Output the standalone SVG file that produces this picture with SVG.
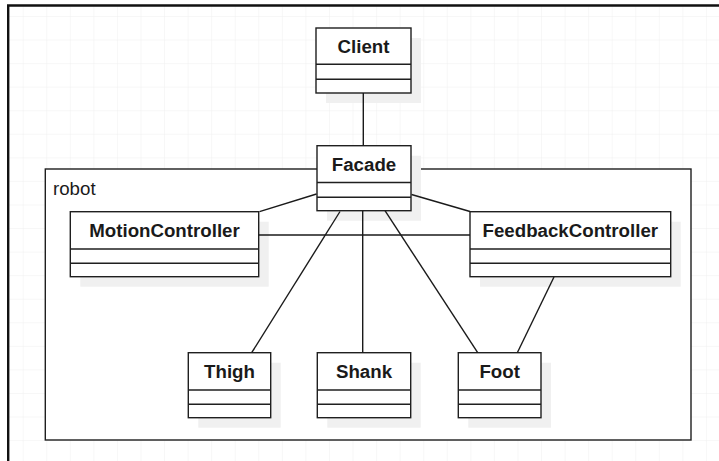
<svg xmlns="http://www.w3.org/2000/svg" width="719" height="461" viewBox="0 0 719 461">
<defs>
<pattern id="grid" x="22.7" y="16" width="23.56" height="23.56" patternUnits="userSpaceOnUse">
<path d="M0 0H23.56M0 0V23.56" fill="none" stroke="#f0f0f0" stroke-width="1"/>
</pattern>
</defs>
<style>
.box{fill:#ffffff;stroke:#1f1f1f;stroke-width:1.4}
.div{stroke:#1f1f1f;stroke-width:1.4}
.shadow{fill:#f0f0f0}
.name{font-family:"Liberation Sans",Arial,sans-serif;font-weight:bold;font-size:18.7px;fill:#1a1a1a;text-anchor:middle}
.conn line{stroke:#1a1a1a;stroke-width:1.4}
</style>
<rect x="0" y="0" width="719" height="461" fill="#ffffff"/>
<rect x="8" y="5.5" width="711" height="456" fill="url(#grid)"/>
<path d="M8.2 461V5.5H719" fill="none" stroke="#111" stroke-width="2.4"/>
<g id="robot">
<rect x="45.3" y="169" width="645.7" height="271" fill="#ffffff" stroke="#1f1f1f" stroke-width="1.4"/>
<text x="53" y="195" font-family="'Liberation Sans',Arial,sans-serif" font-size="18.7px" fill="#1a1a1a">robot</text>
</g>
<g id="Client">
<rect class="shadow" x="326" y="38" width="95" height="65"/>
<rect class="box" x="316" y="28" width="95" height="65"/>
<line class="div" x1="316" y1="64.3" x2="411" y2="64.3"/>
<line class="div" x1="316" y1="79.3" x2="411" y2="79.3"/>
<text class="name" x="363.5" y="53">Client</text>
</g>
<g id="Facade">
<rect class="shadow" x="327" y="155.7" width="94" height="65"/>
<rect class="box" x="317" y="145.7" width="94" height="65"/>
<line class="div" x1="317" y1="182.5" x2="411" y2="182.5"/>
<line class="div" x1="317" y1="197.2" x2="411" y2="197.2"/>
<text class="name" x="364" y="170.6">Facade</text>
</g>
<g id="MotionController">
<rect class="shadow" x="80.3" y="221.7" width="188.4" height="65"/>
<rect class="box" x="70.3" y="211.7" width="188.4" height="65"/>
<line class="div" x1="70.3" y1="249" x2="258.7" y2="249"/>
<line class="div" x1="70.3" y1="263.3" x2="258.7" y2="263.3"/>
<text class="name" x="164.5" y="236.6">MotionController</text>
</g>
<g id="FeedbackController">
<rect class="shadow" x="480" y="221.7" width="200.7" height="65"/>
<rect class="box" x="470" y="211.7" width="200.7" height="65"/>
<line class="div" x1="470" y1="249" x2="670.7" y2="249"/>
<line class="div" x1="470" y1="263.3" x2="670.7" y2="263.3"/>
<text class="name" x="570.3" y="236.6">FeedbackController</text>
</g>
<g id="Thigh">
<rect class="shadow" x="198.3" y="362.7" width="82.4" height="65"/>
<rect class="box" x="188.3" y="352.7" width="82.4" height="65"/>
<line class="div" x1="188.3" y1="390" x2="270.7" y2="390"/>
<line class="div" x1="188.3" y1="404.3" x2="270.7" y2="404.3"/>
<text class="name" x="229.5" y="377.6">Thigh</text>
</g>
<g id="Shank">
<rect class="shadow" x="327.3" y="362.7" width="93.4" height="65"/>
<rect class="box" x="317.3" y="352.7" width="93.4" height="65"/>
<line class="div" x1="317.3" y1="390" x2="410.7" y2="390"/>
<line class="div" x1="317.3" y1="404.3" x2="410.7" y2="404.3"/>
<text class="name" x="364" y="377.6">Shank</text>
</g>
<g id="Foot">
<rect class="shadow" x="468.3" y="362.7" width="82.7" height="65"/>
<rect class="box" x="458.3" y="352.7" width="82.7" height="65"/>
<line class="div" x1="458.3" y1="390" x2="541" y2="390"/>
<line class="div" x1="458.3" y1="404.3" x2="541" y2="404.3"/>
<text class="name" x="499.7" y="377.6">Foot</text>
</g>
<g id="connectors" class="conn">
<line x1="363.3" y1="93" x2="363.3" y2="145.7"/>
<line x1="316.5" y1="194" x2="259.5" y2="211.7"/>
<line x1="411.5" y1="194.5" x2="470" y2="211.5"/>
<line x1="258.7" y1="235" x2="470" y2="235"/>
<line x1="340" y1="211.5" x2="251.7" y2="352.7"/>
<line x1="362.7" y1="210.7" x2="362.7" y2="352.7"/>
<line x1="385" y1="210.7" x2="477.7" y2="352.7"/>
<line x1="554" y1="277" x2="517.3" y2="352.7"/>
</g>
</svg>
